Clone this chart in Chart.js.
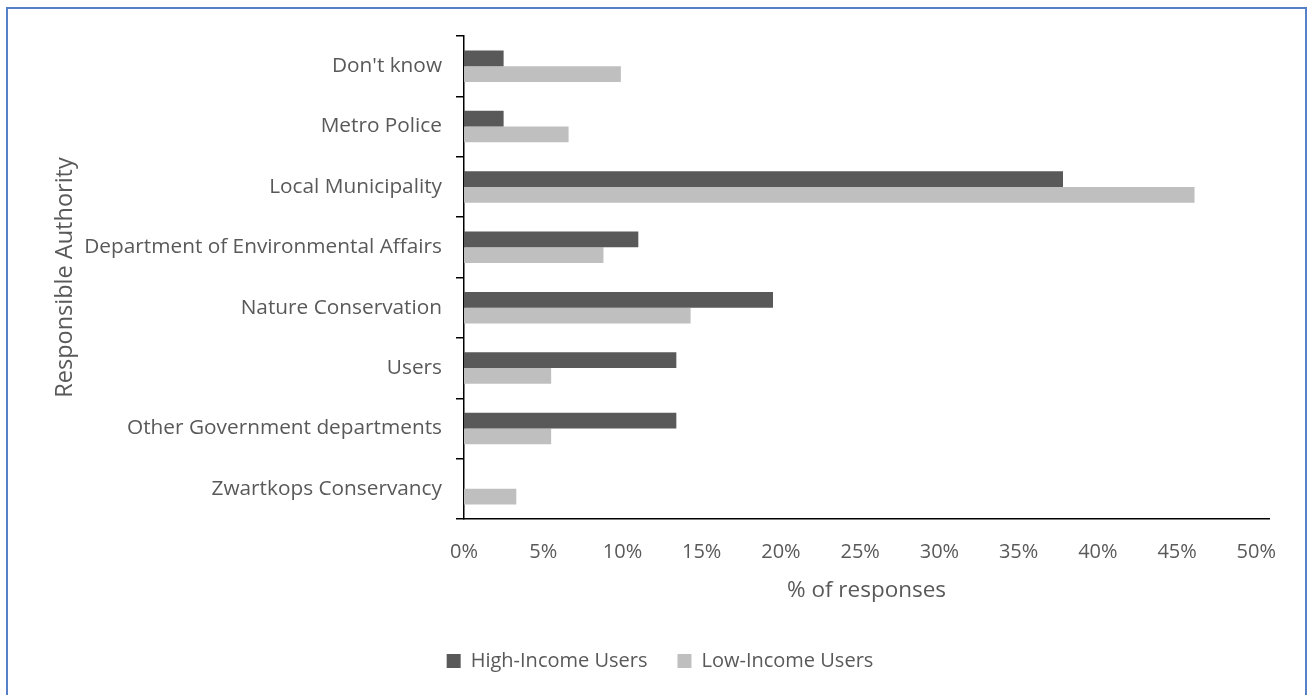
<!DOCTYPE html>
<html>
<head>
<meta charset="utf-8">
<script src="https://cdn.jsdelivr.net/npm/chart.js@4.4.1/dist/chart.umd.min.js"></script>
<style>
	body { margin: 0; background: #fff; overflow: hidden; }
	#wrap { position: relative; width: 1311px; height: 695px; }
	#frame { position: absolute; left: 6px; top: 7px; width: 1297px; height: 700px; border: 2px solid #5681c9; pointer-events: none; }
	canvas { position: absolute; left: 0; top: 0; }
</style>
</head>
<body>
<div id="wrap">
	<canvas id="chart" width="1311" height="695"></canvas>
	<div id="frame"></div>
</div>
<script>
// categories, top to bottom
const authorities = [
	"Don't know",
	'Metro Police',
	'Local Municipality',
	'Department of Environmental Affairs',
	'Nature Conservation',
	'Users',
	'Other Government departments',
	'Zwartkops Conservancy',
];
// % of responses
const highIncome = [2.5, 2.5, 37.8, 11.0, 19.5, 13.4, 13.4, 0];
const lowIncome = [9.9, 6.6, 46.1, 8.8, 14.3, 5.5, 5.5, 3.3];
const seriesNames = ['High-Income Users', 'Low-Income Users'];

const textColor = '#595959';
const font = 'Open Sans';

const ctx = document.getElementById('chart').getContext('2d');
new Chart(ctx, {
	type: 'bar',
	data: {
		labels: authorities,
		datasets: [
			{
				label: seriesNames[0],
				data: highIncome,
				backgroundColor: '#595959',
				borderWidth: 0,
				barPercentage: 1,
				categoryPercentage: 0.52,
			},
			{
				label: seriesNames[1],
				data: lowIncome,
				backgroundColor: '#bfbfbf',
				borderWidth: 0,
				barPercentage: 1,
				categoryPercentage: 0.52,
			},
		],
	},
	options: {
		indexAxis: 'y',
		responsive: false,
		animation: false,
		devicePixelRatio: 1,
		layout: {
			padding: { top: 36, right: 42, left: 51, bottom: 14 },
		},
		plugins: {
			tooltip: { enabled: false },
			legend: {
				position: 'bottom',
				labels: {
					color: textColor,
					font: { family: font, size: 20 },
					boxWidth: 14,
					boxHeight: 14,
					padding: 30,
				},
			},
		},
		scales: {
			x: {
				min: 0,
				max: 50.8,
				afterFit: (scale) => {
					scale.height = 102; // pins the plot bottom
				},
				grid: { display: false, drawTicks: false },
				border: { display: true, color: '#000', width: 1.5 },
				ticks: {
					stepSize: 5,
					includeBounds: false,
					padding: 21,
					color: textColor,
					font: { family: font, size: 20 },
					callback: (v) => v + '%',
				},
				title: {
					display: true,
					text: '% of responses',
					color: textColor,
					font: { family: font, size: 22.5 },
					padding: { top: 0, bottom: 17 },
				},
			},
			y: {
				afterFit: (scale) => {
					scale.width = 413;
				},
				grid: {
					offset: true,
					drawOnChartArea: false,
					drawTicks: true,
					tickLength: 8,
					color: '#000',
					lineWidth: 1.5,
				},
				border: { display: true, color: '#000', width: 1.5 },
				ticks: {
					padding: 14,
					color: textColor,
					font: { family: font, size: 20.8 },
				},
				title: {
					display: true,
					text: 'Responsible Authority',
					color: textColor,
					font: { family: font, size: 23.5 },
					padding: { top: 0, bottom: 0 },
				},
			},
		},
	},
});
</script>
</body>
</html>
